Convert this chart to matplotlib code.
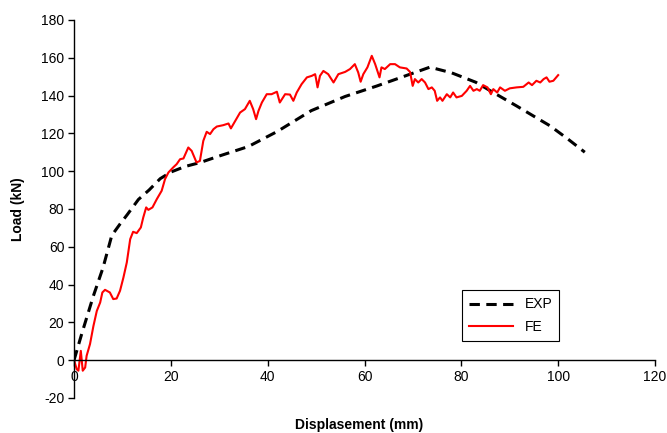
import numpy as np
import matplotlib.pyplot as plt

plt.rcParams['font.family'] = ['Liberation Sans', 'DejaVu Sans']
plt.rcParams['axes.unicode_minus'] = False

# courbe experimentale (EXP)
exp_x = [0, 1.6, 4, 6, 7.8, 9.5, 11, 13.3, 15.5, 17.8, 20, 23, 26, 30, 36, 42, 49,
         56, 62.5, 68, 73.5, 78, 83, 87, 91.4, 95, 98.3, 102, 105.5]
exp_y = [0, 14, 34, 49, 66, 72, 77, 85, 90, 96, 99.5, 102.5, 104.5, 108, 113, 121,
         132, 139.5, 145, 150, 155, 152, 147, 141, 134.5, 129, 124, 117, 110]

# courbe elements finis (FE)
fe_x = [0, 0.55, 0.9, 1.4, 1.8, 2.3, 2.6, 3.3, 4, 4.7, 5.4, 5.85, 6.4, 7.4, 8.1, 8.8,
        9.5, 10.2, 10.9, 11.6, 12.2, 12.95, 13.8, 14.3, 14.9, 15.35, 16.2, 17.1, 18.1,
        18.8, 19.5, 20.5, 21.2, 21.9, 22.6, 23.6, 24.3, 25.3, 26, 26.7, 27.4, 28.1,
        28.8, 29.5, 30.8, 31.9, 32.4, 33.3, 34.3, 35.3, 36.3, 37, 37.6, 38.1, 38.8,
        39.8, 40.8, 41.9, 42.5, 43.6, 44.6, 45.3, 46, 47, 48.1, 49.1, 49.8, 50, 50.3,
        50.8, 51.5, 52.5, 53.6, 54.6, 56, 57, 58, 58.7, 59.2, 59.75, 60.6, 61.5, 62.2,
        63.1, 63.5, 64.2, 65.3, 66.3, 67.3, 68.7, 69.4, 69.95, 70.4, 71.1, 71.8, 72.5,
        73.2, 73.9, 74.5, 75, 75.6, 76.1, 77, 77.7, 78.3, 79, 80.1, 81.1, 81.8, 82.5,
        83.2, 83.8, 84.5, 85.4, 86.1, 86.6, 87.4, 88, 89, 90, 91.4, 92.8, 93.9, 94.6,
        95.5, 96.3, 97, 97.6, 98.2, 99, 100]
fe_y = [0, -4.8, -5.6, 4.9, -5.6, -3.9, 2.3, 8.5, 18, 26, 30.5, 35.8, 37.2, 35.8, 32.3,
        32.6, 36.7, 43.7, 51.7, 64, 67.9, 67.2, 70.2, 75.5, 80.8, 79.5, 80.8, 85.2,
        89.6, 95.8, 99.3, 102, 103.7, 106.3, 106.7, 112.5, 110.7, 104.6, 105.4, 116,
        120.8, 119.6, 122.2, 123.6, 124.3, 125.2, 122.6, 126.6, 131, 132.8, 137.2,
        132.8, 127.5, 131.9, 136.3, 140.7, 140.7, 142, 136.3, 140.7, 140.5, 137.2,
        141.6, 146, 149.6, 150.4, 151.3, 148.7, 144.3, 150.4, 153, 151.3, 146.9, 151.3,
        152.5, 154, 156.6, 152.2, 147.3, 151.3, 154.9, 161, 156.6, 149.6, 154.9, 154,
        156.6, 156.6, 154.9, 154.3, 152.5, 145.1, 148.7, 146.9, 148.7, 146.9, 143.4,
        144.3, 142.5, 137.2, 139, 137.2, 140.7, 139, 141.6, 139, 139.8, 142.5, 145.1,
        142.5, 143.4, 142.5, 145.5, 144.3, 140.7, 143.4, 141.6, 144.3, 142.5, 143.8,
        144.3, 144.6, 146.9, 145.5, 147.8, 146.9, 148.7, 149.6, 147.3, 147.8, 150.8]

fig = plt.figure(figsize=(6.67, 4.33), dpi=100)
ax = fig.add_axes([0.111, 0.081, 0.871, 0.873])

ax.plot(exp_x, exp_y, '--', color='black', lw=2.2, dashes=(3.4, 2.1), label='EXP')
ax.plot(fe_x, fe_y, '-', color='red', lw=1.5, label='FE')

ax.set_xlim(0, 120)
ax.set_ylim(-20, 180)
ax.set_xticks(np.arange(0, 121, 20))
ax.set_yticks(np.arange(-20, 181, 20))

# axe des x a y = 0
ax.spines['bottom'].set_position(('data', 0))
ax.spines['top'].set_visible(False)
ax.spines['right'].set_visible(False)
for s in ['left', 'bottom']:
    ax.spines[s].set_color('black')
    ax.spines[s].set_linewidth(1)
ax.tick_params(axis='both', direction='out', length=4, width=1, labelsize=10, pad=3)

ax.set_xlabel('Displasement (mm)', fontsize=10, fontweight='bold', va='center')
ax.xaxis.set_label_coords(0.49, -0.071)
ax.set_ylabel('Load (kN)', fontsize=10, fontweight='bold', va='center')
ax.yaxis.set_label_coords(-0.097, 0.5)

leg = ax.legend(loc='lower left', bbox_to_anchor=(0.656, 0.133), fancybox=False,
                framealpha=1, edgecolor='black', fontsize=10, handlelength=3.2,
                borderpad=0.5, labelspacing=0.6)
leg.get_frame().set_linewidth(0.8)

plt.savefig('out.png', dpi=100)
